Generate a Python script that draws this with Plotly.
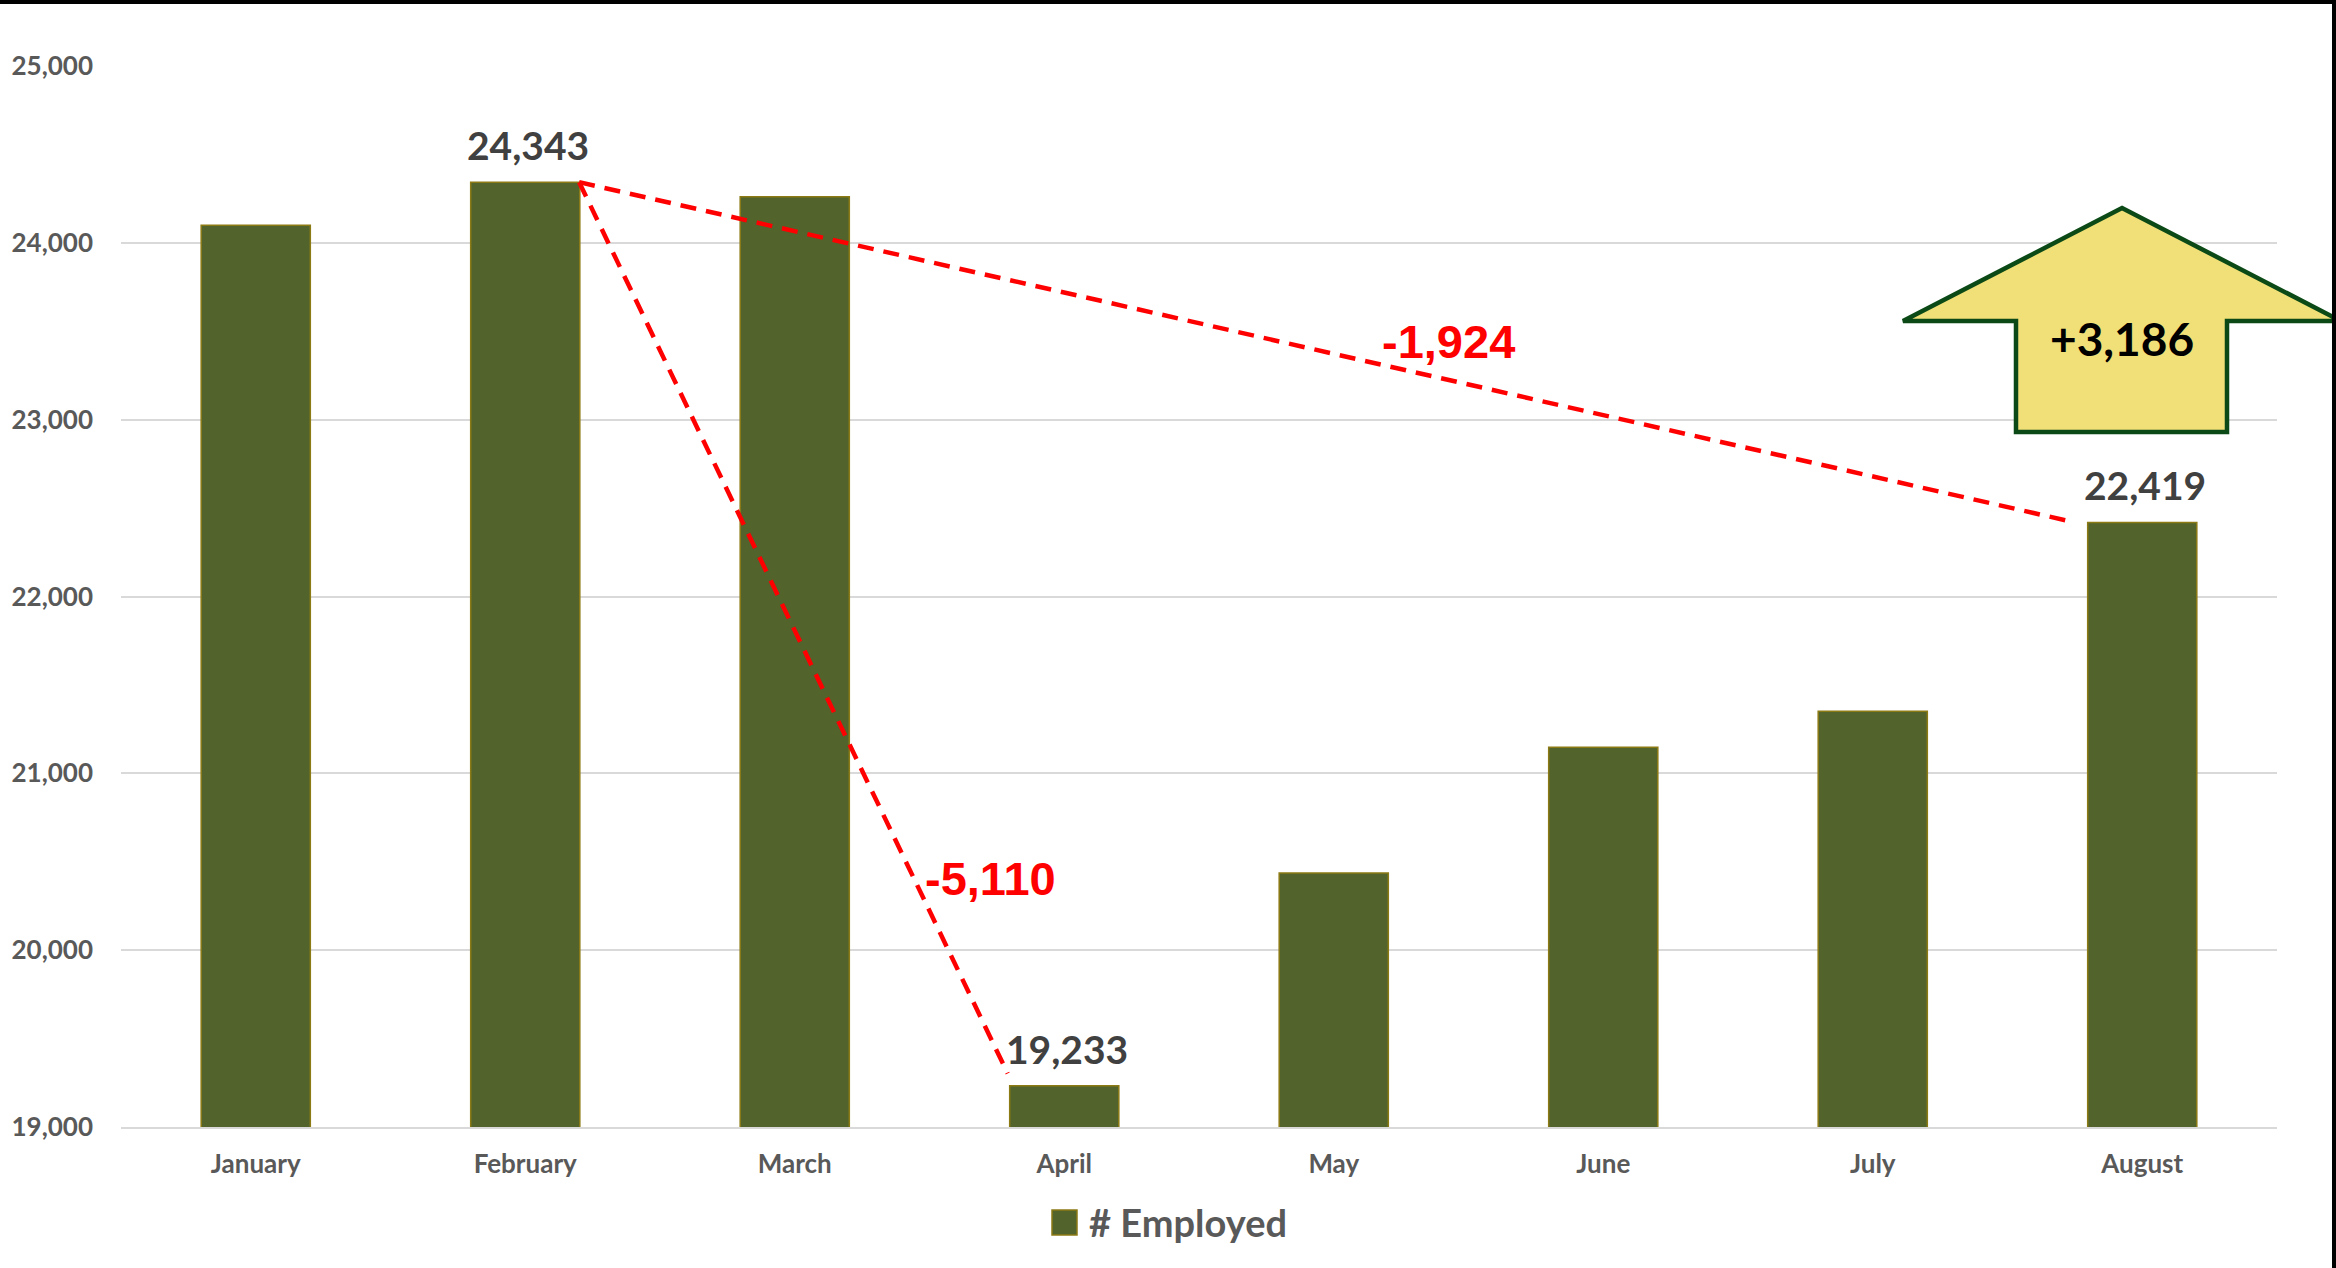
import plotly.graph_objects as go

# ---- data ----
months = ["January", "February", "March", "April", "May", "June", "July", "August"]
employed = [24100, 24343, 24260, 19233, 20436, 21148, 21351, 22419]
labeled_months = ["February", "April", "August"]
y_ticks = [19000, 20000, 21000, 22000, 23000, 24000, 25000]
series_name = "# Employed"

feb = employed[months.index("February")]
apr = employed[months.index("April")]
aug = employed[months.index("August")]

# ---- layout geometry (pixels) ----
W, H = 2336, 1268
ML, MR, MT, MB = 121, 59, 66, 141
PW, PH = W - ML - MR, H - MT - MB


def px(x):
    return (x - ML) / PW


def py(y):
    return (H - MB - y) / PH


BAR_FILL = "#52632B"
BAR_LINE = "#8C7A14"
GRAY = "#595959"
DARK = "#404040"
RED = "#FF0000"
FONT = "Lato"

fig = go.Figure()
fig.add_trace(go.Bar(
    x=months, y=employed, name=series_name,
    marker=dict(color=BAR_FILL, line=dict(color=BAR_LINE, width=1.5)),
    showlegend=False, hoverinfo="x+y",
))

annotations = []
for m in labeled_months:
    v = employed[months.index(m)]
    annotations.append(dict(
        x=m, y=v, xref="x", yref="y", text=f"{v:,}", showarrow=False,
        xanchor="center", yanchor="middle", yshift=37, xshift=3,
        font=dict(family=FONT, size=39, color=DARK, weight="bold"),
    ))

red_font = dict(family="Liberation Sans", size=47, color=RED, weight="bold")
annotations.append(dict(
    x=px(1448), y=py(342), xref="paper", yref="paper", text=f"{aug - feb:,}",
    xanchor="center", yanchor="middle", showarrow=False, font=red_font,
))
annotations.append(dict(
    x=px(990), y=py(878), xref="paper", yref="paper", text=f"{apr - feb:,}",
    xanchor="center", yanchor="middle", showarrow=False, font=red_font,
))
annotations.append(dict(
    x=px(2122), y=py(338), xref="paper", yref="paper", text=f"+{aug - apr:,}",
    xanchor="center", yanchor="middle", showarrow=False,
    font=dict(family=FONT, size=46, color="#000000", weight="bold"),
))
# legend text
annotations.append(dict(
    x=px(1087), y=py(1222), xref="paper", yref="paper", text=series_name,
    xanchor="left", yanchor="middle", showarrow=False,
    font=dict(family=FONT, size=38, color=GRAY, weight="bold"),
))

half = 0.2
dash_line = dict(color=RED, width=4.5, dash="16px,10px")
shapes = [
    dict(type="line", xref="x", yref="y", x0=1 + half, y0=feb, x1=7 - 0.25, y1=aug,
         line=dash_line, layer="above"),
    dict(type="line", xref="x", yref="y", x0=1 + half, y0=feb, x1=3 - 0.21, y1=apr + 70,
         line=dash_line, layer="above"),
]

# up arrow
pts = [(2122, 208), (2341, 321), (2227, 321), (2227, 432), (2016, 432), (2016, 321), (1903, 321)]
path = "M " + " L ".join(f"{px(a):.5f},{py(b):.5f}" for a, b in pts) + " Z"
shapes.append(dict(type="path", xref="paper", yref="paper", path=path,
                   fillcolor="#F1DF77", line=dict(color="#0B4A16", width=4.5), layer="above"))

# legend marker
shapes.append(dict(type="rect", xref="paper", yref="paper",
                   x0=px(1052), x1=px(1077), y0=py(1235), y1=py(1210),
                   fillcolor=BAR_FILL, line=dict(color=BAR_LINE, width=1.5)))

# frame lines (top and right)
shapes.append(dict(type="rect", xref="paper", yref="paper",
                   x0=px(0), x1=px(W), y0=py(4), y1=py(0),
                   fillcolor="#000000", line=dict(width=0)))
shapes.append(dict(type="rect", xref="paper", yref="paper",
                   x0=px(W - 4), x1=px(W), y0=py(H), y1=py(0),
                   fillcolor="#000000", line=dict(width=0)))

fig.update_layout(
    width=W, height=H,
    margin=dict(l=ML, r=MR, t=MT, b=MB, pad=0),
    paper_bgcolor="white", plot_bgcolor="white",
    bargap=0.595,
    showlegend=False,
    annotations=annotations,
    shapes=shapes,
    font=dict(family=FONT),
    xaxis=dict(
        type="category", tickfont=dict(family=FONT, size=26, color=GRAY, weight="bold"),
        showgrid=False, showline=True, linecolor="#D9D9D9", linewidth=2,
        ticks="", ticklabelstandoff=13, fixedrange=True,
    ),
    yaxis=dict(
        range=[y_ticks[0], y_ticks[-1]], tickvals=y_ticks,
        tickformat=",d",
        tickfont=dict(family=FONT, size=26, color=GRAY, weight="bold"),
        showgrid=True, gridcolor="#D9D9D9", gridwidth=2, zeroline=False,
        ticks="", ticklabelstandoff=27, fixedrange=True,
    ),
)

fig.write_html(
    "out.html",
    config={"displayModeBar": False},
    post_script="document.body.style.margin='0';document.body.style.overflow='hidden';",
)
